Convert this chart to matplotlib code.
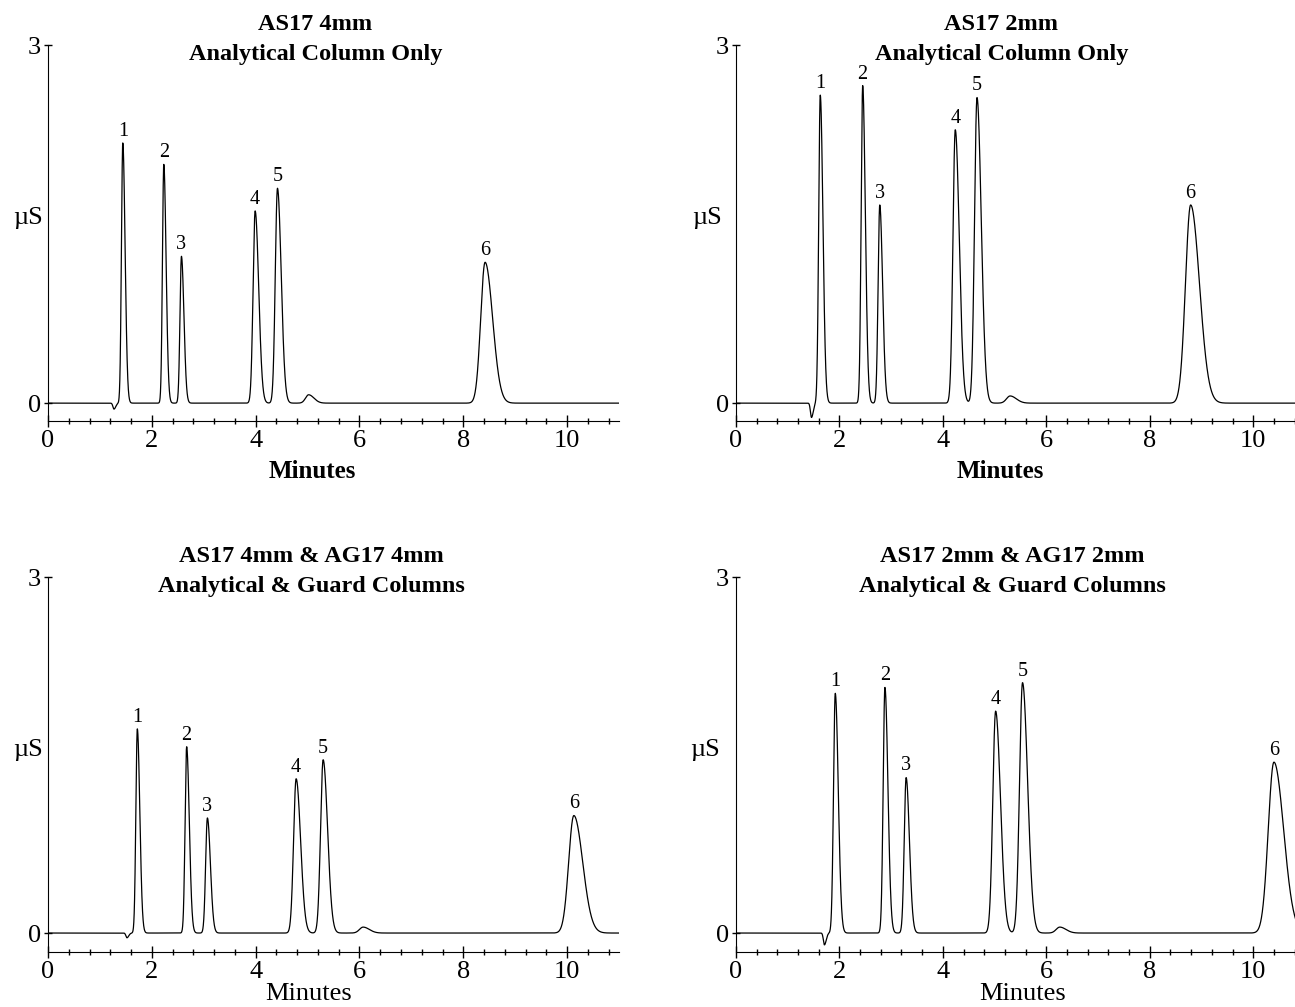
import numpy as np
import matplotlib
matplotlib.use('Agg')
import matplotlib.pyplot as plt

plt.rcParams['font.family'] = ['Liberation Serif', 'DejaVu Serif']

# peak tables: retention time (min), height (uS), width (sigma, min)
# label '' = unlabeled feature (system dip / small bump)
p1_time = [1.27, 1.44, 2.23, 2.57, 3.99, 4.42, 5.02, 8.42]
p1_height = [-0.05, 2.18, 2.00, 1.23, 1.61, 1.80, 0.07, 1.18]
p1_width = [0.02, 0.026, 0.026, 0.028, 0.04, 0.042, 0.06, 0.085]
p1_label = ['', '1', '2', '3', '4', '5', '', '6']

p2_time = [1.46, 1.63, 2.45, 2.78, 4.24, 4.66, 5.30, 8.79]
p2_height = [-0.12, 2.58, 2.66, 1.66, 2.29, 2.56, 0.06, 1.66]
p2_width = [0.02, 0.03, 0.03, 0.032, 0.045, 0.048, 0.07, 0.1]
p2_label = ['', '1', '2', '3', '4', '5', '', '6']

p3_time = [1.52, 1.72, 2.67, 3.07, 4.78, 5.30, 6.07, 10.13]
p3_height = [-0.04, 1.72, 1.57, 0.97, 1.30, 1.46, 0.05, 0.99]
p3_width = [0.02, 0.028, 0.03, 0.034, 0.05, 0.05, 0.07, 0.1]
p3_label = ['', '1', '2', '3', '4', '5', '', '6']

p4_time = [1.71, 1.92, 2.88, 3.29, 5.02, 5.54, 6.26, 10.40]
p4_height = [-0.1, 2.02, 2.07, 1.31, 1.87, 2.11, 0.05, 1.44]
p4_width = [0.02, 0.034, 0.034, 0.037, 0.055, 0.058, 0.07, 0.11]
p4_label = ['', '1', '2', '3', '4', '5', '', '6']

titles = [('AS17 4mm', 'Analytical Column Only'),
          ('AS17 2mm', 'Analytical Column Only'),
          ('AS17 4mm & AG17 4mm', 'Analytical & Guard Columns'),
          ('AS17 2mm & AG17 2mm', 'Analytical & Guard Columns')]

panels = [(p1_time, p1_height, p1_width, p1_label),
          (p2_time, p2_height, p2_width, p2_label),
          (p3_time, p3_height, p3_width, p3_label),
          (p4_time, p4_height, p4_width, p4_label)]


def trace(t, times, heights, widths):
    y = np.zeros_like(t)
    for t0, h, w in zip(times, heights, widths):
        # tailing peak: wider on the right side
        s = np.where(t < t0, w, w * 1.7)
        y += h * np.exp(-0.5 * ((t - t0) / s) ** 2)
    return y


fig = plt.figure(figsize=(12.95, 10.07), dpi=100)

# axes boxes [left, bottom, width, height] in figure fraction
boxes = [[0.0371, 0.5819, 0.4409, 0.3734],
         [0.5683, 0.5819, 0.4394, 0.3734],
         [0.0371, 0.0546, 0.4409, 0.3724],
         [0.5683, 0.0546, 0.4394, 0.3724]]
ylow = [-0.15, -0.15, -0.16, -0.16]
title_x = [5.15, 5.13, 5.08, 5.34]
xlab_x = [0.462, 0.464, 0.456, 0.503]
ylab_x = [-0.035, -0.05, -0.035, -0.055]

t = np.linspace(0, 11, 6000)

for i, (times, heights, widths, labels) in enumerate(panels):
    ax = fig.add_axes(boxes[i])
    y = trace(t, times, heights, widths)
    ax.plot(t, y, color='black', lw=0.9)
    ax.set_xlim(0, 11)
    ax.set_ylim(ylow[i], 3)

    for t0, h, lab in zip(times, heights, labels):
        if lab:
            ax.annotate(lab, (t0, h), xytext=(0, 1.5), textcoords='offset points',
                        ha='center', va='bottom', fontsize=14.5)

    ax.spines['top'].set_visible(False)
    ax.spines['right'].set_visible(False)
    ax.set_xticks([0, 2, 4, 6, 8, 10])
    ax.set_xticks(np.arange(0, 11.01, 0.4), minor=True)
    ax.set_yticks([0, 3])
    ax.tick_params(axis='x', which='major', direction='inout', length=9, width=1, labelsize=19, pad=2)
    ax.tick_params(axis='x', which='minor', direction='inout', length=5, width=1)
    ax.tick_params(axis='y', which='major', direction='inout', length=6, width=1, labelsize=19, pad=2)

    # two-line bold title placed in data coords above the plot
    ax.text(title_x[i], 3.17, titles[i][0], ha='center', va='center',
            fontsize=17.5, fontweight='bold')
    ax.text(title_x[i], 2.92, titles[i][1], ha='center', va='center',
            fontsize=17.5, fontweight='bold')

    if i < 2:
        ax.set_xlabel('Minutes', fontsize=18, fontweight='bold', va='baseline')
        ax.xaxis.set_label_coords(xlab_x[i], -0.152)
    else:
        ax.set_xlabel('Minutes', fontsize=19, va='baseline')
        ax.xaxis.set_label_coords(xlab_x[i], -0.127)
    ax.set_ylabel('\u00b5S', rotation=0, fontsize=19, va='center', ha='center')
    ax.yaxis.set_label_coords(ylab_x[i], 0.54)

fig.savefig('out.png', dpi=100)
